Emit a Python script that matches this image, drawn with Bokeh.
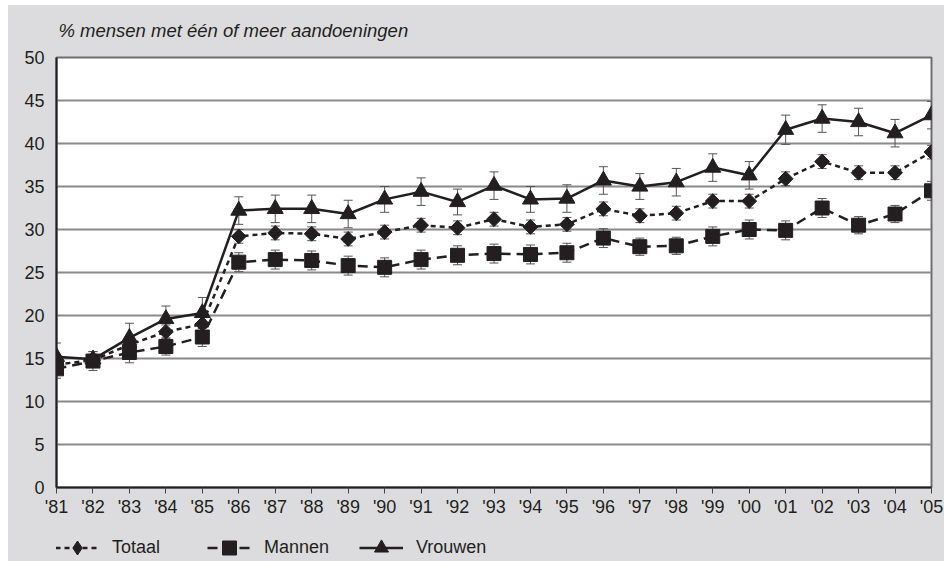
from bokeh.plotting import figure
from bokeh.layouts import column
from bokeh.models import (ColumnDataSource, Whisker, TeeHead, Legend, LegendItem, Label,
                          SingleIntervalTicker, FixedTicker, Range1d)
from bokeh.embed import file_html
from bokeh.resources import INLINE

# ---------------- data ----------------
years = ["'81", "'82", "'83", "'84", "'85", "'86", "'87", "'88", "'89", "'90",
         "'91", "'92", "'93", "'94", "'95", "'96", "'97", "'98", "'99", "'00",
         "'01", "'02", "'03", "'04", "'05"]

totaal = [14.3, 14.8, 16.6, 18.1, 19.0, 29.2, 29.6, 29.5, 28.9, 29.7, 30.5, 30.2, 31.2,
          30.3, 30.6, 32.4, 31.6, 31.9, 33.3, 33.3, 35.9, 37.9, 36.6, 36.6, 39.0]
mannen = [13.8, 14.7, 15.7, 16.4, 17.5, 26.2, 26.5, 26.4, 25.8, 25.6, 26.5, 27.0, 27.2,
          27.1, 27.3, 29.0, 28.0, 28.1, 29.2, 30.0, 29.9, 32.5, 30.5, 31.8, 34.5]
vrouwen = [15.2, 14.9, 17.4, 19.6, 20.3, 32.2, 32.4, 32.4, 31.8, 33.5, 34.4, 33.2, 35.1,
           33.5, 33.6, 35.7, 35.0, 35.5, 37.2, 36.3, 41.6, 42.9, 42.5, 41.2, 43.3]

err_totaal = [0.8, 0.7, 0.9, 0.8, 0.9, 0.8, 0.8, 0.8, 0.8, 0.8, 0.8, 0.8, 0.8,
              0.8, 0.8, 0.8, 0.8, 0.8, 0.8, 0.8, 0.8, 0.8, 0.8, 0.8, 0.8]
err_mannen = [1.1, 1.1, 1.2, 1.0, 1.1, 1.1, 1.1, 1.1, 1.1, 1.1, 1.1, 1.1, 1.1,
              1.1, 1.1, 1.1, 1.0, 1.0, 1.1, 1.1, 1.1, 1.1, 1.0, 1.0, 1.1]
err_vrouwen = [1.6, 0.9, 1.7, 1.5, 1.8, 1.6, 1.6, 1.6, 1.6, 1.5, 1.6, 1.5, 1.6,
               1.5, 1.6, 1.6, 1.5, 1.6, 1.6, 1.6, 1.7, 1.6, 1.6, 1.6, 1.6]

subtitle = "% mensen met één of meer aandoeningen"

# ---------------- styling ----------------
INK = "#231f20"
BG = "#dcdcde"
FONT = "Liberation Sans"
LEFT, RIGHT = 48, 13

xs = list(range(len(years)))

# ---------------- subtitle strip ----------------
tf = figure(width=936, height=40, output_backend="svg", toolbar_location=None,
            x_range=Range1d(0, 1), y_range=Range1d(0, 1),
            x_axis_type=None, y_axis_type=None, min_border=0,
            min_border_left=LEFT, min_border_right=RIGHT)
tf.background_fill_color = BG
tf.border_fill_color = BG
tf.outline_line_color = None
tf.add_layout(Label(x=2, y=15, x_units="screen", y_units="screen", text=subtitle,
                    text_font=FONT, text_font_size="18.5px", text_font_style="italic",
                    text_color=INK, text_baseline="alphabetic", text_align="left"))

# ---------------- main chart ----------------
fig = figure(width=936, height=476, output_backend="svg", toolbar_location=None,
             x_range=Range1d(0, len(years) - 1), y_range=Range1d(0, 50),
             min_border_left=LEFT, min_border_right=RIGHT, min_border_top=12,
             min_border_bottom=34)
fig.background_fill_color = "white"
fig.border_fill_color = BG
fig.outline_line_color = "#6e6e6e"
fig.outline_line_width = 2

fig.xgrid.visible = False
fig.ygrid.grid_line_color = "#8a8a8a"
fig.ygrid.grid_line_width = 2

fig.yaxis.ticker = SingleIntervalTicker(interval=5)
fig.yaxis.axis_line_color = INK
fig.yaxis.axis_line_width = 2
fig.yaxis.major_tick_out = 0
fig.yaxis.major_tick_in = 0
fig.yaxis.minor_tick_out = 0
fig.yaxis.minor_tick_in = 0
fig.yaxis.major_label_standoff = 12

fig.xaxis.ticker = FixedTicker(ticks=xs)
fig.xaxis.major_label_overrides = {i: lab for i, lab in enumerate(years)}
fig.xaxis.axis_line_color = INK
fig.xaxis.axis_line_width = 2
fig.xaxis.major_tick_out = 6
fig.xaxis.major_tick_in = 0
fig.xaxis.major_tick_line_color = "#444444"
fig.xaxis.minor_tick_out = 0
fig.xaxis.major_label_standoff = 3

for ax in (fig.xaxis, fig.yaxis):
    ax.major_label_text_font = FONT
    ax.major_label_text_font_size = "18px"
    ax.major_label_text_color = INK

series = [
    ("Totaal", totaal, err_totaal, "5 4", "square", 10.5, 0.7854),
    ("Mannen", mannen, err_mannen, "10 6", "square", 14, 0.0),
    ("Vrouwen", vrouwen, err_vrouwen, "solid", "triangle", 16, 0.0),
]

# error bars
for name, vals, errs, dash, marker, size, ang in series:
    src = ColumnDataSource(dict(x=xs,
                                lower=[v - e for v, e in zip(vals, errs)],
                                upper=[v + e for v, e in zip(vals, errs)]))
    w = Whisker(base="x", lower="lower", upper="upper", source=src,
                line_color="#555555", line_width=1,
                upper_head=TeeHead(size=9, line_color="#555555", line_width=1),
                lower_head=TeeHead(size=9, line_color="#555555", line_width=1))
    fig.add_layout(w)

for name, vals, errs, dash, marker, size, ang in series:
    fig.line(xs, vals, line_color=INK, line_width=2.5, line_dash=dash)
for name, vals, errs, dash, marker, size, ang in series:
    fig.scatter(xs, vals, marker=marker, size=size, angle=ang,
                fill_color=INK, line_color=INK, line_width=1)

# ---------------- legend strip (series drawn off-view, only the legend shows) ----------------
lf = figure(width=936, height=40, output_backend="svg", toolbar_location=None,
            x_range=Range1d(100, 101), y_range=Range1d(100, 101),
            x_axis_type=None, y_axis_type=None, min_border=0,
            min_border_left=LEFT, min_border_right=RIGHT)
lf.background_fill_color = BG
lf.background_fill_alpha = 1
lf.border_fill_color = BG
lf.outline_line_color = None

legend_markers = {"Totaal": "diamond", "Mannen": "square", "Vrouwen": "triangle"}
items = []
for name, vals, errs, dash, marker, size, ang in series:
    lr = lf.line(xs, vals, line_color=INK, line_width=2.5, line_dash=dash)
    sr = lf.scatter(xs, vals, marker=legend_markers[name], size=size,
                    fill_color=INK, line_color=INK, line_width=1)
    items.append(LegendItem(label=name, renderers=[lr, sr]))

GH = 35
leg = Legend(items=items, location=(-1, 14 - GH / 2), orientation="horizontal",
             glyph_width=44, glyph_height=GH, label_standoff=13, label_width=95,
             padding=0, margin=0, spacing=0,
             border_line_alpha=0, background_fill_alpha=0,
             label_text_font=FONT, label_text_font_size="18px",
             label_text_color=INK)
lf.add_layout(leg)

p = column(tf, fig, lf, spacing=0, margin=(5, 0, 0, 8), styles={"background-color": BG})

open("out.html", "w").write(file_html(p, INLINE))
